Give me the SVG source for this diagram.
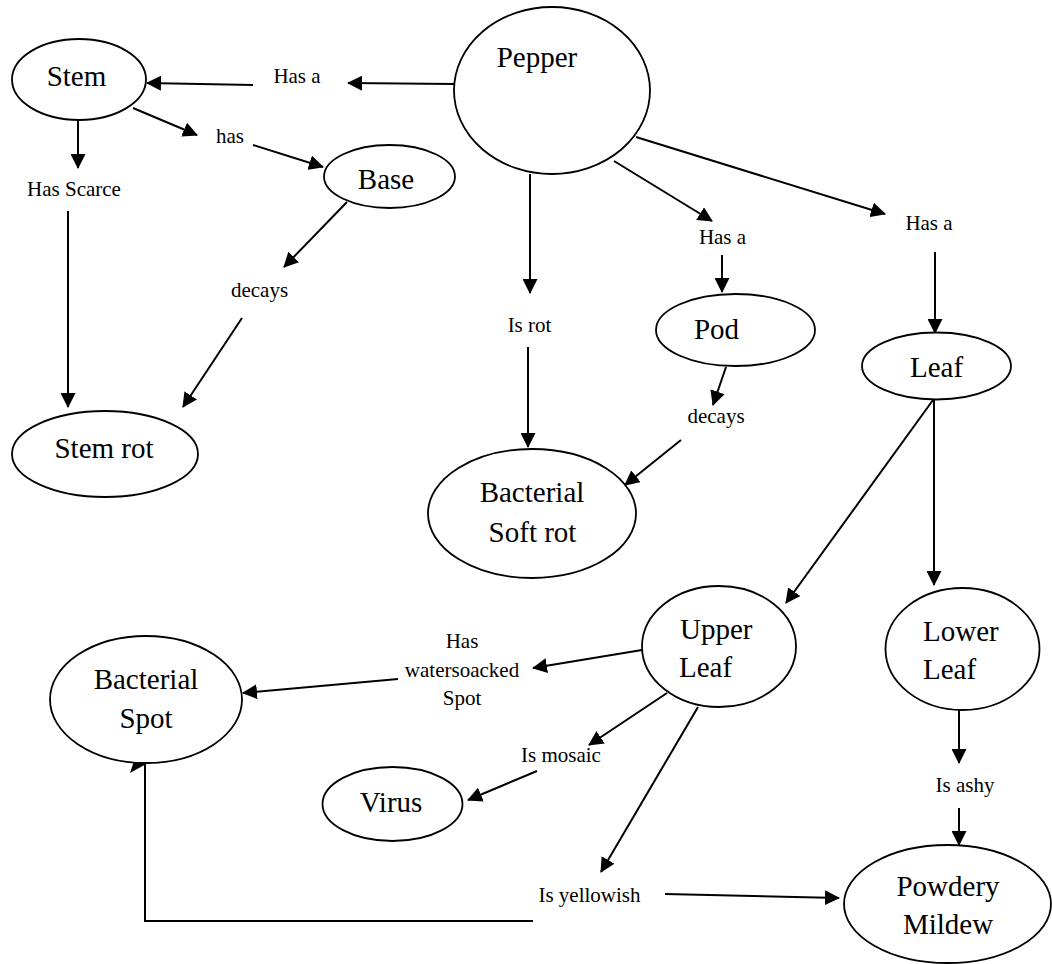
<svg xmlns="http://www.w3.org/2000/svg" width="1052" height="964" viewBox="0 0 1052 964">
  <defs>
    <marker id="arrow" markerUnits="userSpaceOnUse" markerWidth="15" markerHeight="15" viewBox="0 0 15 15" refX="14" refY="7.5" orient="auto">
      <path d="M0,0 L15,7.5 L0,15 z" fill="#000"/>
    </marker>
  </defs>
  <style>
    .node ellipse { fill: #fff; stroke: #000; stroke-width: 1.8; }
    .big { font-family: "Liberation Serif", "Times New Roman", serif; font-size: 29px; fill: #000; text-anchor: middle; }
    .big.left { text-anchor: start; }
    .lbl { font-family: "Liberation Serif", "Times New Roman", serif; font-size: 21px; fill: #000; text-anchor: middle; }
    .edge { fill: none; stroke: #000; stroke-width: 2; }
    .arr { marker-end: url(#arrow); }
  </style>
  <rect width="1052" height="964" fill="#fff"/>

  <!-- connectors -->
  <g id="connectors">
    <path class="edge arr" d="M454,84 L348,83"/>
    <path class="edge arr" d="M253,85 L147,83"/>
    <path class="edge arr" d="M133,108 L197,135"/>
    <path class="edge arr" d="M253,145 L323,167"/>
    <path class="edge arr" d="M78,117 L78,168"/>
    <path class="edge arr" d="M68,211 L68,407"/>
    <path class="edge arr" d="M347,202 L284,267"/>
    <path class="edge arr" d="M242,318 L183,407"/>
    <path class="edge arr" d="M530,174 L530,293"/>
    <path class="edge arr" d="M528,347 L528,447"/>
    <path class="edge arr" d="M614,161 L712,221"/>
    <path class="edge arr" d="M722,255 L722,292"/>
    <path class="edge arr" d="M726,367 L713,405"/>
    <path class="edge arr" d="M681,440 L625,485"/>
    <path class="edge arr" d="M636,137 L885,214"/>
    <path class="edge arr" d="M935,252 L935,333"/>
    <path class="edge arr" d="M933,400 L786,603"/>
    <path class="edge arr" d="M934,400 L934,585"/>
    <path class="edge arr" d="M642,650 L533,668"/>
    <path class="edge arr" d="M398,679 L243,693"/>
    <path class="edge arr" d="M667,693 L589,745"/>
    <path class="edge arr" d="M537,771 L468,800"/>
    <path class="edge arr" d="M698,707 L601,872"/>
    <path class="edge arr" d="M665,894 L839,898"/>
    <path class="edge" d="M533,921 L145,921 L145,764"/>
    <polygon points="130,773 135,758 148,763" fill="#000"/>
    <path class="edge arr" d="M959,705 L959,763"/>
    <path class="edge arr" d="M959,808 L959,845"/>
  </g>

  <!-- relation labels -->
  <g id="labels">
    <text class="lbl" x="297" y="83">Has a</text>
    <text class="lbl" x="230" y="143">has</text>
    <text class="lbl" x="74" y="196">Has Scarce</text>
    <text class="lbl" x="259.5" y="297">decays</text>
    <text class="lbl" x="529.5" y="332">Is rot</text>
    <text class="lbl" x="722.5" y="244">Has a</text>
    <text class="lbl" x="929" y="230">Has a</text>
    <text class="lbl" x="716" y="423">decays</text>
    <text class="lbl" x="462" y="648">Has</text>
    <text class="lbl" x="462" y="677">watersoacked</text>
    <text class="lbl" x="462" y="705">Spot</text>
    <text class="lbl" x="561" y="762">Is mosaic</text>
    <text class="lbl" x="589.5" y="902">Is yellowish</text>
    <text class="lbl" x="965" y="792">Is ashy</text>
  </g>

  <!-- nodes -->
  <g id="stem" class="node">
    <ellipse cx="79" cy="79.5" rx="67" ry="40.5"/>
    <text class="big" x="76.5" y="86">Stem</text>
  </g>
  <g id="pepper" class="node">
    <ellipse cx="552" cy="90.5" rx="98" ry="83.5"/>
    <text class="big" x="537" y="67">Pepper</text>
  </g>
  <g id="base" class="node">
    <ellipse cx="389.5" cy="176.5" rx="65.5" ry="31.5"/>
    <text class="big" x="386" y="189">Base</text>
  </g>
  <g id="stem-rot" class="node">
    <ellipse cx="105" cy="454" rx="93" ry="43"/>
    <text class="big" x="104" y="458">Stem rot</text>
  </g>
  <g id="bacterial-soft-rot" class="node">
    <ellipse cx="532" cy="513.5" rx="104" ry="64.5"/>
    <text class="big" x="532" y="502">Bacterial</text>
    <text class="big" x="532.5" y="542">Soft rot</text>
  </g>
  <g id="pod" class="node">
    <ellipse cx="735.5" cy="330" rx="79.5" ry="36"/>
    <text class="big" x="716.5" y="339">Pod</text>
  </g>
  <g id="leaf" class="node">
    <ellipse cx="936.5" cy="366" rx="74.5" ry="33.5"/>
    <text class="big" x="936.5" y="377">Leaf</text>
  </g>
  <g id="upper-leaf" class="node">
    <ellipse cx="719" cy="646.5" rx="77" ry="60.5"/>
    <text class="big left" x="680" y="639">Upper</text>
    <text class="big left" x="679" y="677">Leaf</text>
  </g>
  <g id="lower-leaf" class="node">
    <ellipse cx="962.5" cy="649" rx="77" ry="61"/>
    <text class="big left" x="923" y="641">Lower</text>
    <text class="big left" x="923" y="679">Leaf</text>
  </g>
  <g id="powdery-mildew" class="node">
    <ellipse cx="947.5" cy="904" rx="103.5" ry="59"/>
    <text class="big" x="948" y="896">Powdery</text>
    <text class="big" x="948" y="934">Mildew</text>
  </g>
  <g id="bacterial-spot" class="node">
    <ellipse cx="146" cy="699.5" rx="96" ry="63.5"/>
    <text class="big" x="146" y="689">Bacterial</text>
    <text class="big" x="146" y="728">Spot</text>
  </g>
  <g id="virus" class="node">
    <ellipse cx="392.5" cy="804" rx="70" ry="37"/>
    <text class="big" x="391" y="812">Virus</text>
  </g>
</svg>
